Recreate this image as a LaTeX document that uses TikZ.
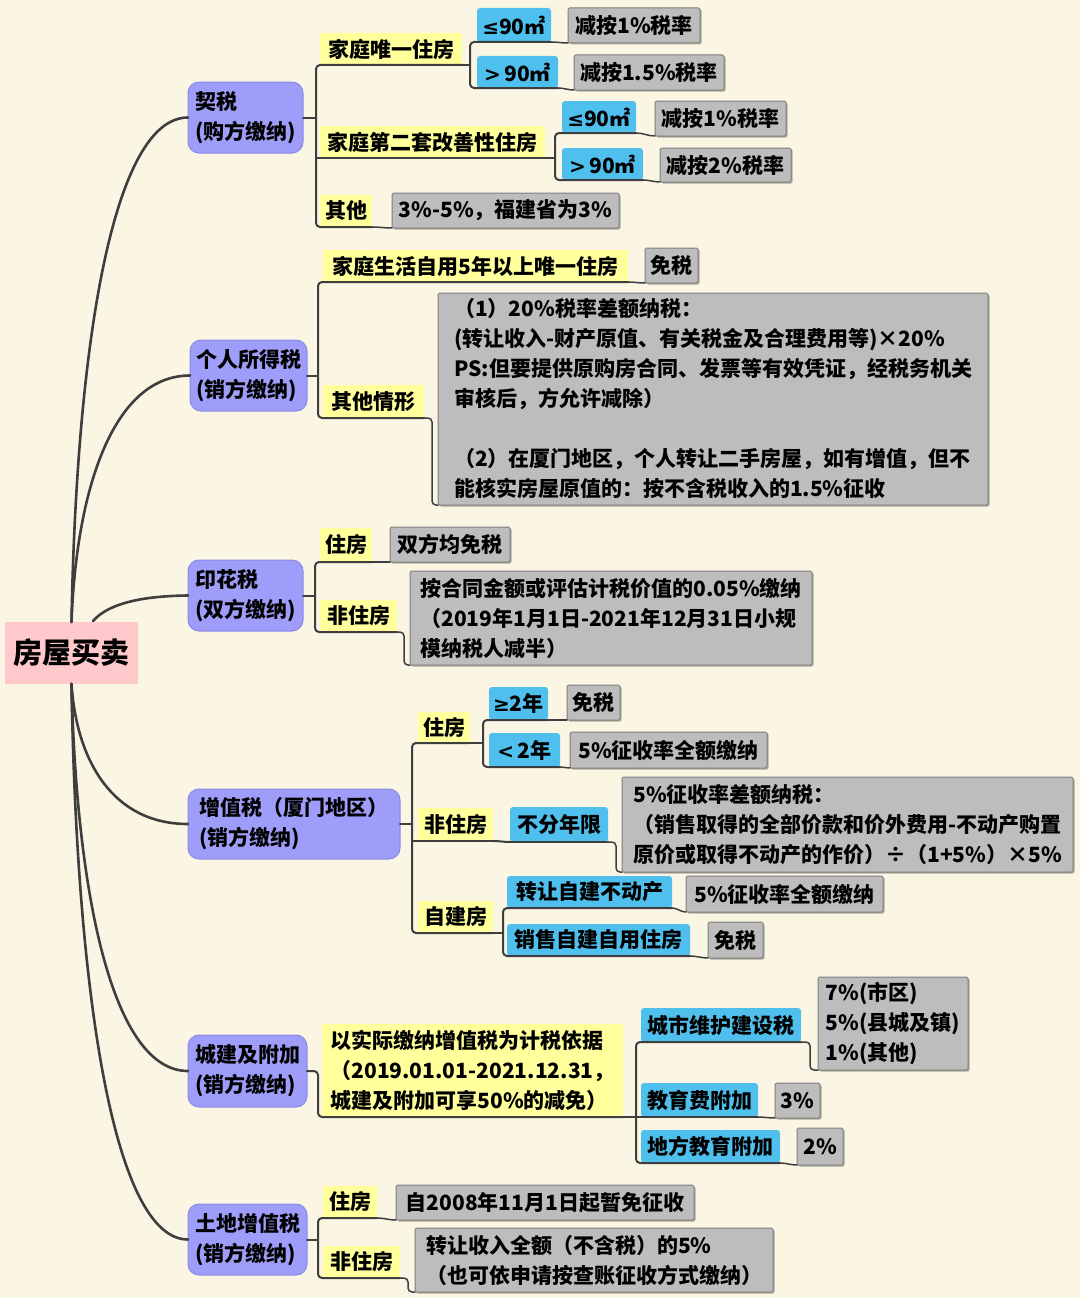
\documentclass[tikz,border=0pt]{standalone}
\usepackage{fontspec}
\setmainfont{Noto Sans CJK SC}
\newfontfamily\symf{DejaVu Sans}
\usetikzlibrary{shadows}
\definecolor{bg}{HTML}{FBF6E3}
\definecolor{purp}{HTML}{9E9EFA}
\definecolor{purpd}{HTML}{8A8AE6}
\definecolor{yel}{HTML}{FFFF9C}
\definecolor{blu}{HTML}{4FBFED}
\definecolor{gry}{HTML}{BDBDBD}
\definecolor{gryd}{HTML}{7E7E7E}
\definecolor{pinkc}{HTML}{FFC8CB}
\definecolor{ln}{HTML}{3E3E3E}
\newcommand\mybox[7]{\node[#2,minimum width={#5-#3},minimum height={#6-#4}] (#1) at (#3,#4) {#7};}
\newcommand\symle{{\symf\fontsize{20}{30}\selectfont ≤}}
\newcommand\symge{{\symf\fontsize{20}{30}\selectfont ≥}}
\newcommand\symgt{{\symf\fontsize{20}{30}\selectfont >}\,}
\newcommand\symlt{{\symf\fontsize{20}{30}\selectfont <}\,}
\tikzset{
  basebox/.style={anchor=north west, inner sep=0pt, outer sep=0pt, align=left, text=black,
    font=\bfseries\fontsize{21}{30}\selectfont},
  catbox/.style={basebox, fill=purp, draw=purpd, line width=1pt, rounded corners=11pt},
  yelbox/.style={basebox, fill=yel},
  blubox/.style={basebox, fill=blu, rounded corners=3pt},
  grybox/.style={basebox, fill=gry, draw=gryd, line width=1pt, rounded corners=1.5pt,
    drop shadow={shadow xshift=1.5pt, shadow yshift=-1.5pt, opacity=0.3, fill=black}},
  rootbox/.style={basebox, fill=pinkc, font=\bfseries\fontsize{29}{34}\selectfont},
  conn/.style={draw=ln, line width=2pt, line cap=round, line join=round},
  leafc/.style={draw=ln, line width=1.5pt, line cap=round},
  maincurve/.style={draw=ln, line width=2.6pt, line cap=round},
  spinec/.style={conn, rounded corners=4pt}
}
\begin{document}
\begin{tikzpicture}[x=1pt,y=-1pt]
\useasboundingbox (0,0) rectangle (1080,1298);
\fill[bg] (0,0) rectangle (1080,1298);

% root
\mybox{r}{rootbox}{5}{622}{138}{684}{房屋买卖}
% categories
\mybox{c1}{catbox}{188}{82}{303}{153}{契税\\(购方缴纳)}
\mybox{c2}{catbox}{190}{340}{307}{411}{个人所得税\\(销方缴纳)}
\mybox{c3}{catbox}{188}{560}{303}{631}{印花税\\(双方缴纳)}
\mybox{c4}{catbox}{188}{789}{400}{859}{增值税（厦门地区）\\(销方缴纳)}
\mybox{c5}{catbox}{188}{1035}{307}{1107}{城建及附加\\(销方缴纳)}
\mybox{c6}{catbox}{188}{1204}{307}{1275}{土地增值税\\(销方缴纳)}

% group 1
\mybox{q1}{yelbox}{320}{33}{462}{65}{家庭唯一住房}
\mybox{q2}{yelbox}{320}{126}{545}{158}{家庭第二套改善性住房}
\mybox{q3}{yelbox}{320}{195}{372}{227}{其他}
\mybox{a1}{blubox}{477}{8}{551}{42}{\symle 90㎡}
\mybox{a2}{blubox}{477}{56}{558}{88}{\symgt 90㎡}
\mybox{ga1}{grybox}{568}{8}{700}{43}{减按1\%税率}
\mybox{ga2}{grybox}{574}{55}{724}{90}{减按1.5\%税率}
\mybox{b1}{blubox}{562}{101}{636}{133}{\symle 90㎡}
\mybox{b2}{blubox}{562}{148}{643}{180}{\symgt 90㎡}
\mybox{gb1}{grybox}{655}{101}{786}{136}{减按1\%税率}
\mybox{gb2}{grybox}{660}{148}{791}{182}{减按2\%税率}
\mybox{gq3}{grybox}{392}{193}{619}{228}{3\%-5\%，福建省为3\%}

% group 2
\mybox{p1}{yelbox}{323}{250}{628}{282}{家庭生活自用5年以上唯一住房}
\mybox{p2}{yelbox}{323}{385}{424}{418}{其他情形}
\mybox{gp1}{grybox}{645}{248}{698}{283}{免税}
\mybox{gp2}{grybox}{438}{293}{988}{505}{（1）20\%税率差额纳税：\\(转让收入-财产原值、有关税金及合理费用等)×20\%\\PS:但要提供原购房合同、发票等有效凭证，经税务机关\\审核后，方允许减除）\\[30pt]（2）在厦门地区，个人转让二手房屋，如有增值，但不\\能核实房屋原值的：按不含税收入的1.5\%征收}

% group 3
\mybox{y1}{yelbox}{320}{528}{372}{562}{住房}
\mybox{y2}{yelbox}{320}{600}{397}{632}{非住房}
\mybox{gy1}{grybox}{390}{527}{510}{562}{双方均免税}
\mybox{gy2}{grybox}{410}{571}{812}{665}{按合同金额或评估计税价值的0.05\%缴纳\\（2019年1月1日-2021年12月31日小规\\模纳税人减半）}

% group 4
\mybox{z1}{yelbox}{418}{712}{470}{743}{住房}
\mybox{z2}{yelbox}{418}{808}{493}{841}{非住房}
\mybox{z3}{yelbox}{418}{901}{493}{933}{自建房}
\mybox{z11}{blubox}{489}{687}{548}{720}{\symge 2年}
\mybox{z12}{blubox}{489}{733}{560}{767}{\symlt 2年}
\mybox{gz11}{grybox}{567}{685}{620}{720}{免税}
\mybox{gz12}{grybox}{570}{732}{767}{768}{5\%征收率全额缴纳}
\mybox{z21}{blubox}{510}{807}{608}{842}{不分年限}
\mybox{gz21}{grybox}{622}{777}{1073}{872}{5\%征收率差额纳税：\\（销售取得的全部价款和价外费用-不动产购置\\原价或取得不动产的作价）÷（1+5\%）×5\%}
\mybox{z31}{blubox}{507}{876}{672}{908}{转让自建不动产}
\mybox{z32}{blubox}{507}{924}{690}{956}{销售自建自用住房}
\mybox{gz31}{grybox}{686}{876}{883}{912}{5\%征收率全额缴纳}
\mybox{gz32}{grybox}{708}{922}{763}{958}{免税}

% group 5
\mybox{w1}{yelbox}{322}{1024}{623}{1117}{以实际缴纳增值税为计税依据\\（2019.01.01-2021.12.31，\\城建及附加可享50\%的减免）}
\mybox{w11}{blubox}{641}{1008}{801}{1042}{城市维护建设税}
\mybox{w12}{blubox}{641}{1083}{758}{1117}{教育费附加}
\mybox{w13}{blubox}{641}{1130}{780}{1163}{地方教育附加}
\mybox{gw11}{grybox}{818}{977}{968}{1070}{7\%(市区)\\5\%(县城及镇)\\1\%(其他)}
\mybox{gw12}{grybox}{775}{1083}{820}{1118}{3\%}
\mybox{gw13}{grybox}{797}{1128}{843}{1165}{2\%}

% group 6
\mybox{t1}{yelbox}{323}{1186}{377}{1218}{住房}
\mybox{t2}{yelbox}{323}{1246}{400}{1278}{非住房}
\mybox{gt1}{grybox}{396}{1185}{694}{1220}{自2008年11月1日起暂免征收}
\mybox{gt2}{grybox}{415}{1228}{773}{1292}{转让收入全额（不含税）的5\%\\（也可依申请按查账征收方式缴纳）}

% ---------- main curves ----------
\coordinate (r3) at (93,621);
\draw[maincurve] (r.north) .. controls +(5,-278) and +(-75,0) .. (c1.west);
\draw[maincurve] (r.north) .. controls +(5,-135) and +(-76,0) .. (c2.west);
\draw[maincurve] (r3) .. controls (108,604) and (140,596) .. (c3.west);
\draw[maincurve] (r.south) .. controls +(5,77) and +(-75,0) .. (c4.west);
\draw[maincurve] (r.south) .. controls +(5,213) and +(-75,0) .. (c5.west);
\draw[maincurve] (r.south) .. controls +(5,306) and +(-75,0) .. (c6.west);

% ---------- group 1 connectors ----------
\coordinate (s1) at (316,0);
\draw[conn] (c1.east) -- (c1.east -| s1);
\draw[spinec] (q1.south east) -- (q1.south west -| s1) -- (q3.south west -| s1) -- (q3.south east);
\draw[conn] (q2.south west -| s1) -- (q2.south east);
\coordinate (s1a) at (470,0);
\draw[conn] (q1.south east) -- (q1.south east -| s1a);
\draw[spinec] (a1.south east) -- (a1.south west -| s1a) -- (a2.south west -| s1a) -- (a2.south east);
\coordinate (s1b) at (555,0);
\draw[conn] (q2.south east) -- (q2.south east -| s1b);
\draw[spinec] (b1.south east) -- (b1.south west -| s1b) -- (b2.south west -| s1b) -- (b2.south east);
\draw[leafc] (a1.south east) to[out=0,in=180] (ga1.south west);
\draw[leafc] (a2.south east) to[out=0,in=180] (ga2.south west);
\draw[leafc] (b1.south east) to[out=0,in=180] (gb1.south west);
\draw[leafc] (b2.south east) to[out=0,in=180] (gb2.south west);
\draw[leafc] (q3.south east) to[out=0,in=180] (gq3.south west);

% ---------- group 2 ----------
\coordinate (s2) at (318,0);
\draw[conn] (c2.east) -- (c2.east -| s2);
\draw[spinec] (p1.south east) -- (p1.south west -| s2) -- (p2.south west -| s2) -- (p2.south east);
\draw[leafc] (p1.south east) to[out=0,in=180] (gp1.south west);
\coordinate (s2b) at (432,0);
\draw[leafc, rounded corners=4pt] (p2.south east) -- (p2.south east -| s2b) -- (gp2.south west -| s2b) -- (gp2.south west);

% ---------- group 3 ----------
\coordinate (s3) at (315,0);
\draw[conn] (c3.east) -- (c3.east -| s3);
\draw[spinec] (y1.south east) -- (y1.south west -| s3) -- (y2.south west -| s3) -- (y2.south east);
\draw[leafc] (y1.south east) to[out=0,in=180] (gy1.south west);
\coordinate (s3b) at (404,0);
\draw[leafc, rounded corners=4pt] (y2.south east) -- (y2.south east -| s3b) -- (gy2.south west -| s3b) -- (gy2.south west);

% ---------- group 4 ----------
\coordinate (s4) at (412,0);
\draw[conn] (c4.east) -- (c4.east -| s4);
\draw[spinec] (z1.south east) -- (z1.south west -| s4) -- (z3.south west -| s4) -- (z3.south east);
\draw[conn] (z2.south west -| s4) -- (z2.south east);
\coordinate (s4a) at (483,0);
\draw[conn] (z1.south east) -- (z1.south east -| s4a);
\draw[spinec] (z11.south east) -- (z11.south west -| s4a) -- (z12.south west -| s4a) -- (z12.south east);
\draw[leafc] (z11.south east) to[out=0,in=180] (gz11.south west);
\draw[leafc] (z12.south east) to[out=0,in=180] (gz12.south west);
\draw[conn] (z2.south east) to[out=0,in=180] (z21.south west);
\draw[conn] (z21.south west) -- (z21.south east);
\coordinate (s4b) at (616,0);
\draw[leafc, rounded corners=4pt] (z21.south east) -- (z21.south east -| s4b) -- (gz21.south west -| s4b) -- (gz21.south west);
\coordinate (s4c) at (503,0);
\draw[conn] (z3.south east) -- (z3.south east -| s4c);
\draw[spinec] (z31.south east) -- (z31.south west -| s4c) -- (z32.south west -| s4c) -- (z32.south east);
\draw[leafc] (z31.south east) to[out=0,in=180] (gz31.south west);
\draw[leafc] (z32.south east) to[out=0,in=180] (gz32.south west);

% ---------- group 5 ----------
\coordinate (s5) at (318,0);
\draw[spinec] (c5.east) -- (c5.east -| s5) -- (w1.south west -| s5) -- (w1.south east);
\coordinate (s5a) at (636,0);
\draw[conn] (w1.south east) -- (w1.south east -| s5a);
\draw[spinec] (w11.south east) -- (w11.south west -| s5a) -- (w13.south west -| s5a) -- (w13.south east);
\draw[conn] (w12.south west -| s5a) -- (w12.south east);
\coordinate (s5b) at (810,0);
\draw[leafc, rounded corners=4pt] (w11.south east) -- (w11.south east -| s5b) -- (gw11.south west -| s5b) -- (gw11.south west);
\draw[leafc] (w12.south east) to[out=0,in=180] (gw12.south west);
\draw[leafc] (w13.south east) to[out=0,in=180] (gw13.south west);

% ---------- group 6 ----------
\coordinate (s6) at (318,0);
\draw[conn] (c6.east) -- (c6.east -| s6);
\draw[spinec] (t1.south east) -- (t1.south west -| s6) -- (t2.south west -| s6) -- (t2.south east);
\draw[leafc] (t1.south east) to[out=0,in=180] (gt1.south west);
\coordinate (s6b) at (408,0);
\draw[leafc, rounded corners=4pt] (t2.south east) -- (t2.south east -| s6b) -- (gt2.south west -| s6b) -- (gt2.south west);
\end{tikzpicture}
\end{document}
